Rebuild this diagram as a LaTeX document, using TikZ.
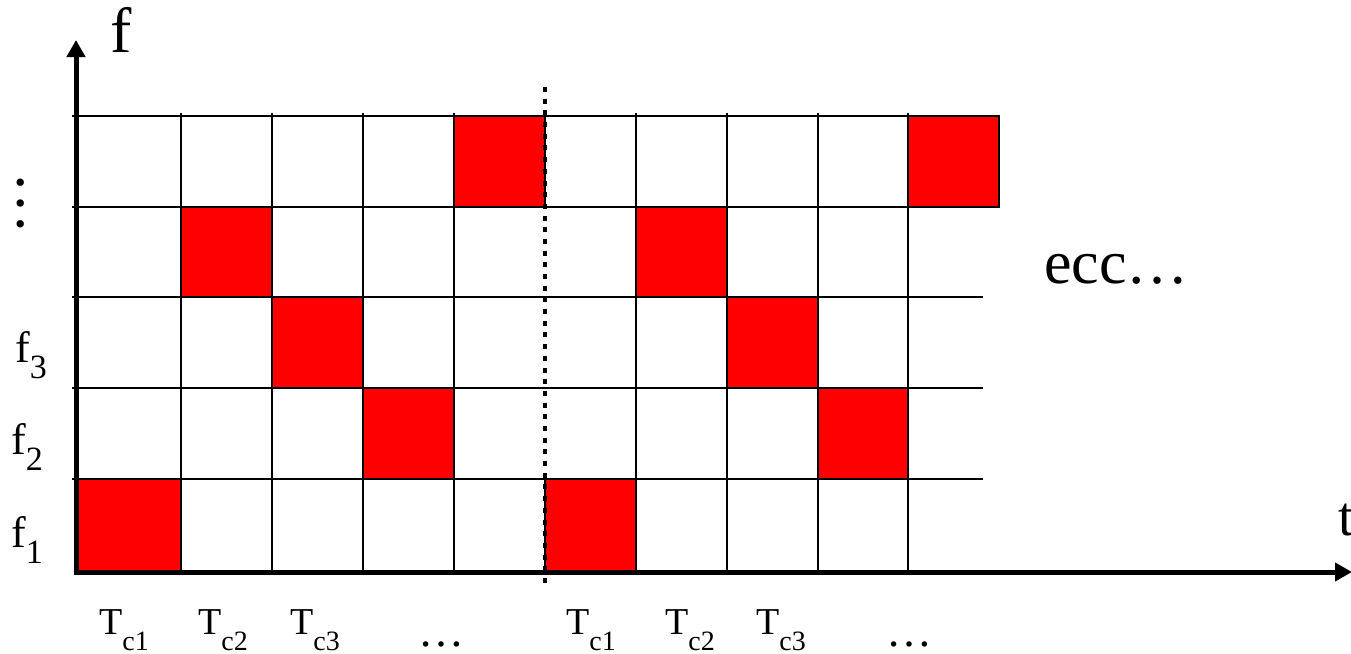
\documentclass[tikz,border=0pt]{standalone}
\usepackage{fontspec}
\setmainfont{Liberation Serif}
\usetikzlibrary{arrows.meta}
\begin{document}
\begin{tikzpicture}[x=1pt,y=-1pt,
  gridline/.style={line width=2.6pt, black},
  axisline/.style={line width=5pt, black, -{Triangle[length=17pt,width=18pt]}},
  cyclesep/.style={line width=4.5pt, black, dash pattern=on 5pt off 6.69pt},
  lbl/.style={inner sep=0pt, anchor=base},
  flbl/.style={inner sep=0pt, anchor=base west, font=\fontsize{44}{44}\selectfont},
  tlbl/.style={inner sep=0pt, anchor=base, font=\fontsize{38}{38}\selectfont},
]
\useasboundingbox (0,0) rectangle (1351,653);
% red cells (fill)
\foreach \xa/\ya/\xb/\yb in {454/116/545/207, 908/116/999/207,
  181/207/272/297, 636/207/727/297,
  272/297/363/388, 727/297/818/388,
  363/388/454/479, 818/388/908/479,
  75/479/181/572, 545/479/636/572}
  \fill[red] (\xa,\ya) rectangle (\xb,\yb);
% grid
\draw[gridline] (72,116) -- (908,116);
\draw[gridline] (72,207) -- (908,207);
\foreach \yy in {297,388,479}
  \draw[gridline] (72,\yy) -- (983,\yy);
\foreach \xx in {181,272,363,454,636,727,818,908}
  \draw[gridline] (\xx,113) -- (\xx,572);
% cycle separator
\coordinate (sepTop) at (545,87);
\coordinate (sepBot) at (545,584);
\draw[cyclesep] (sepTop) -- (sepBot);
% red cell borders
\foreach \xa/\ya/\xb/\yb in {454/116/545/207, 908/116/999/207,
  181/207/272/297, 636/207/727/297,
  272/297/363/388, 727/297/818/388,
  363/388/454/479, 818/388/908/479,
  75/479/181/572, 545/479/636/572}
  \draw[black, line width=2.8pt] (\xa,\ya) rectangle (\xb,\yb);
% axes
\coordinate (origin) at (76,572);
\coordinate (yTip) at (76,40);
\coordinate (xTip) at (1352,572);
\draw[axisline] (76,574.5) -- (yTip);
\draw[axisline] (73.5,572) -- (xTip);
% axis labels
\node[inner sep=0pt, anchor=base west, font=\fontsize{64}{64}\selectfont] (fLabel) at (110,52) {f};
\node[inner sep=0pt, anchor=base west, font=\fontsize{56}{56}\selectfont] (tLabel) at (1338,535) {t};
\node[inner sep=0pt, rotate=90, font=\fontsize{62}{62}\selectfont] (vdots) at (21,203) {…};
\node[flbl] (f1) at (11,547) {f\raisebox{-16pt}{\fontsize{34}{34}\selectfont 1}};
\node[flbl] (f2) at (11,454) {f\raisebox{-16pt}{\fontsize{34}{34}\selectfont 2}};
\node[flbl] (f3) at (15,362) {f\raisebox{-16pt}{\fontsize{34}{34}\selectfont 3}};
% time labels
\foreach \xx/\k/\nm in {124/1/a1, 223/2/a2, 315/3/a3, 591/1/b1, 690/2/b2, 781/3/b3}
  \node[tlbl] (T\nm) at (\xx,634) {T\raisebox{-16pt}{\fontsize{28}{28}\selectfont c\k}};
\node[lbl, font=\fontsize{46}{46}\selectfont] (dotsA) at (441,646) {…};
\node[lbl, font=\fontsize{46}{46}\selectfont] (dotsB) at (909,646) {…};
\node[inner sep=0pt, anchor=base west, font=\fontsize{62}{62}\selectfont] (ecc) at (1044,283) {ecc…};
\end{tikzpicture}
\end{document}
